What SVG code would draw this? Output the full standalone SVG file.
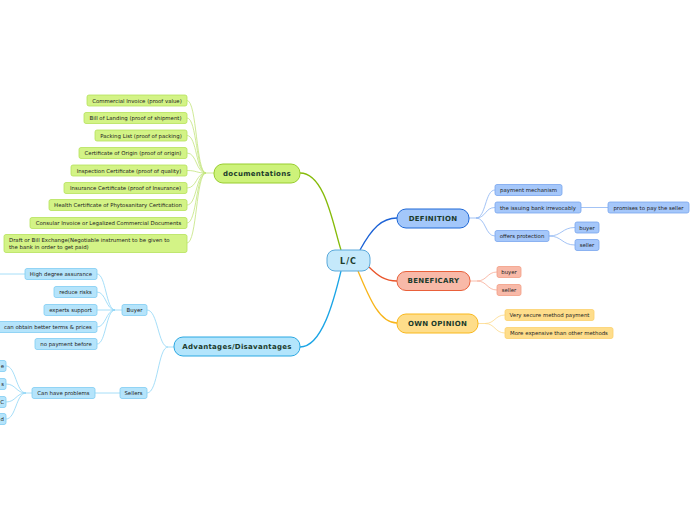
<svg xmlns="http://www.w3.org/2000/svg" width="696" height="520" viewBox="0 0 696 520">
<style>
text{font-family:"DejaVu Sans",Verdana,sans-serif;}
.main{font-size:7px;font-weight:bold;fill:#1b3b2c;text-anchor:middle;dominant-baseline:central;letter-spacing:0.3px;}
.sub{font-size:5.4px;fill:#222;dominant-baseline:central;}
.r{text-anchor:end;}
.l{text-anchor:start;}
.c{text-anchor:middle;}
.dg{fill:#d3f386;stroke:#b5e25a;stroke-width:0.8;}
.bl{fill:#b5e4fb;stroke:#7fcdf3;stroke-width:0.8;}
.db{fill:#a5c7fa;stroke:#78a6ee;stroke-width:0.8;}
.rd{fill:#f8b9a8;stroke:#f39d84;stroke-width:0.8;}
.yl{fill:#fedd8b;stroke:#fbd06d;stroke-width:0.8;}
.cg{fill:none;stroke:#c3e57c;stroke-width:0.8;}
.cb{fill:none;stroke:#8fd6f6;stroke-width:0.8;}
.cd{fill:none;stroke:#8cb4f2;stroke-width:0.8;}
.cr{fill:none;stroke:#f7ab96;stroke-width:0.8;}
.cy{fill:none;stroke:#fcd98a;stroke-width:0.8;}
</style>
<g id="connectors">
  <path d="M300,173 C325,173 333,225 341,250" fill="none" stroke="#86bb0a" stroke-width="1.3"/>
  <path d="M300,347 C322,347 334,300 341,271" fill="none" stroke="#1ba5e6" stroke-width="1.3"/>
  <path d="M360,250 C372,228 382,218 397,218" fill="none" stroke="#1c62d6" stroke-width="1.3"/>
  <path d="M369,267 C378,276 385,281 397,281" fill="none" stroke="#e9552b" stroke-width="1.3"/>
  <path d="M358,271 C370,300 380,323 397,323" fill="none" stroke="#f8b51a" stroke-width="1.3"/>
  <path class="cg" d="M214,173 L206,173"/>
  <path class="cg" d="M206,173 C196,173 197,100.5 187,100.5"/>
  <path class="cg" d="M206,173 C196,173 197,118 187,118"/>
  <path class="cg" d="M206,173 C196,173 197,135.5 187,135.5"/>
  <path class="cg" d="M206,173 C196,173 197,153 187,153"/>
  <path class="cg" d="M206,173 C196,173 197,170.5 187,170.5"/>
  <path class="cg" d="M206,173 C196,173 197,188 187,188"/>
  <path class="cg" d="M206,173 C196,173 197,205 187,205"/>
  <path class="cg" d="M206,173 C196,173 197,223 187,223"/>
  <path class="cg" d="M206,173 C196,173 197,243 187,243"/>
  <path class="cb" d="M174,347 L168,347 C158,347 158,310 147,310"/>
  <path class="cb" d="M168,347 C158,347 158,393 147,393"/>
  <path class="cb" d="M122,310 L115,310"/>
  <path class="cb" d="M115,310 C106,310 106,274 97,274"/>
  <path class="cb" d="M115,310 C106,310 106,292 97,292"/>
  <path class="cb" d="M115,310 L97,310"/>
  <path class="cb" d="M115,310 C106,310 106,327 97,327"/>
  <path class="cb" d="M115,310 C106,310 106,344 97,344"/>
  <path class="cb" d="M25,274 L0,274"/>
  <path class="cb" d="M120,393 L95,393"/>
  <path class="cb" d="M32,393 L26,393"/>
  <path class="cb" d="M26,393 C16,393 16,366 6,366"/>
  <path class="cb" d="M26,393 C16,393 16,384 6,384"/>
  <path class="cb" d="M26,393 C16,393 16,402 6,402"/>
  <path class="cb" d="M26,393 C16,393 16,419 6,419"/>
  <path class="cd" d="M469,218 L476,218"/>
  <path class="cd" d="M476,218 C486,218 485,190 495,190"/>
  <path class="cd" d="M476,218 C486,218 485,207.5 495,207.5"/>
  <path class="cd" d="M476,218 C486,218 485,236 495,236"/>
  <path class="cd" d="M581,207.5 L608,207.5"/>
  <path class="cd" d="M549,236 C562,236 562,227.5 575,227.5"/>
  <path class="cd" d="M549,236 C562,236 562,245 575,245"/>
  <path class="cr" d="M470,281 L477,281"/>
  <path class="cr" d="M477,281 C487,281 487,272 497,272"/>
  <path class="cr" d="M477,281 C487,281 487,290 497,290"/>
  <path class="cy" d="M478,323.5 L485,323.5"/>
  <path class="cy" d="M485,323.5 C495,323.5 495,315 505,315"/>
  <path class="cy" d="M485,323.5 C495,323.5 495,333 505,333"/>
</g>
<g id="lc">
  <rect x="327" y="250" width="43" height="21" rx="8" fill="#c5e9fb" stroke="#5aa9db" stroke-width="1"/>
  <text class="main" x="348.5" y="261" style="font-size:8px;letter-spacing:1px">L/C</text>
</g>
<g id="documentations">
  <rect x="214" y="164" width="86" height="19" rx="9" fill="#cdf27a" stroke="#98cd2e" stroke-width="1"/>
  <text class="main" x="257" y="173.5">documentations</text>
</g>
<g id="doc1"><rect class="dg" x="87" y="95" width="100" height="11" rx="2"/><text class="sub c" x="137" y="100.5">Commercial Invoice (proof value)</text></g>
<g id="doc2"><rect class="dg" x="84" y="112.5" width="103" height="11" rx="2"/><text class="sub c" x="135.5" y="118">Bill of Landing (proof of shipment)</text></g>
<g id="doc3"><rect class="dg" x="95" y="130" width="92" height="11" rx="2"/><text class="sub c" x="141" y="135.5">Packing List (proof of packing)</text></g>
<g id="doc4"><rect class="dg" x="79" y="147.5" width="108" height="11" rx="2"/><text class="sub c" x="133" y="153">Certificate of Origin (proof of origin)</text></g>
<g id="doc5"><rect class="dg" x="71" y="165" width="116" height="11" rx="2"/><text class="sub c" x="129" y="170.5">Inspection Certificate (proof of quality)</text></g>
<g id="doc6"><rect class="dg" x="64" y="182.5" width="123" height="11" rx="2"/><text class="sub c" x="125.5" y="188">Insurance Certificate (proof of Insurance)</text></g>
<g id="doc7"><rect class="dg" x="49" y="199.5" width="138" height="11" rx="2"/><text class="sub c" x="118" y="205">Health Certificate of Phytosanitary Certification</text></g>
<g id="doc8"><rect class="dg" x="30" y="217.5" width="157" height="11" rx="2"/><text class="sub c" x="108.5" y="223">Consular Invoice or Legalized Commercial Documents</text></g>
<g id="doc9"><rect class="dg" x="4" y="234.5" width="183" height="18" rx="2"/><text class="sub l" x="9" y="240">Draft or Bill Exchange(Negotiable instrument to be given to</text><text class="sub l" x="9" y="246.5">the bank in order to get paid)</text></g>
<g id="advantages">
  <rect x="174" y="337" width="126" height="19" rx="9" fill="#b3e5fc" stroke="#2aa8e2" stroke-width="1"/>
  <text class="main" x="237" y="346.5">Advantages/Disavantages</text>
</g>
<g id="buyer"><rect class="bl" x="122" y="304.5" width="25" height="11" rx="2"/><text class="sub c" x="134.5" y="310">Buyer</text></g>
<g id="sellers"><rect class="bl" x="120" y="387.5" width="27" height="11" rx="2"/><text class="sub c" x="133.5" y="393">Sellers</text></g>
<g id="adv1"><rect class="bl" x="25" y="268.5" width="72" height="11" rx="2"/><text class="sub c" x="61" y="274">High degree assurance</text></g>
<g id="adv2"><rect class="bl" x="54" y="286.5" width="43" height="11" rx="2"/><text class="sub c" x="75.5" y="292">reduce risks</text></g>
<g id="adv3"><rect class="bl" x="44" y="304.5" width="53" height="11" rx="2"/><text class="sub c" x="70.5" y="310">experts support</text></g>
<g id="adv4"><rect class="bl" x="-2" y="321.5" width="99" height="11" rx="2"/><text class="sub c" x="48" y="327">can obtain better terms &amp; prices</text></g>
<g id="adv5"><rect class="bl" x="35" y="338.5" width="62" height="11" rx="2"/><text class="sub c" x="66" y="344">no payment before</text></g>
<g id="problems"><rect class="bl" x="32" y="387.5" width="63" height="11" rx="2"/><text class="sub c" x="63.5" y="393">Can have problems</text></g>
<g id="prob1"><rect class="bl" x="-20" y="360.5" width="26" height="11" rx="2"/><text class="sub r" x="4" y="366">e</text></g>
<g id="prob2"><rect class="bl" x="-20" y="378.5" width="26" height="11" rx="2"/><text class="sub r" x="4" y="384">s</text></g>
<g id="prob3"><rect class="bl" x="-20" y="396.5" width="26" height="11" rx="2"/><text class="sub r" x="4" y="402">C</text></g>
<g id="prob4"><rect class="bl" x="-20" y="413.5" width="26" height="11" rx="2"/><text class="sub r" x="4" y="419">d</text></g>
<g id="definition">
  <rect x="397" y="209" width="72" height="19" rx="9" fill="#a3c7fa" stroke="#1f68d6" stroke-width="1"/>
  <text class="main" x="433" y="218.5">DEFINITION</text>
</g>
<g id="def1"><rect class="db" x="495" y="184.5" width="67" height="11" rx="2"/><text class="sub c" x="528.5" y="190">payment mechanism</text></g>
<g id="def2"><rect class="db" x="495" y="202" width="86" height="11" rx="2"/><text class="sub c" x="538" y="207.5">the issuing bank irrevocably</text></g>
<g id="def3"><rect class="db" x="608" y="202" width="81" height="11" rx="2"/><text class="sub c" x="648.5" y="207.5">promises to pay the seller</text></g>
<g id="def4"><rect class="db" x="495" y="230.5" width="54" height="11" rx="2"/><text class="sub c" x="522" y="236">offers protection</text></g>
<g id="def5"><rect class="db" x="575" y="222" width="24" height="11" rx="2"/><text class="sub c" x="587" y="227.5">buyer</text></g>
<g id="def6"><rect class="db" x="575" y="239.5" width="24" height="11" rx="2"/><text class="sub c" x="587" y="245">seller</text></g>
<g id="beneficary">
  <rect x="397" y="271.5" width="73" height="19" rx="9" fill="#f8b9a8" stroke="#e9603a" stroke-width="1"/>
  <text class="main" x="433.5" y="281">BENEFICARY</text>
</g>
<g id="ben1"><rect class="rd" x="497" y="266.5" width="24" height="11" rx="2"/><text class="sub c" x="509" y="272">buyer</text></g>
<g id="ben2"><rect class="rd" x="497" y="284.5" width="24" height="11" rx="2"/><text class="sub c" x="509" y="290">seller</text></g>
<g id="opinion">
  <rect x="397" y="314" width="81" height="19" rx="9" fill="#fedd8a" stroke="#f9b81c" stroke-width="1"/>
  <text class="main" x="437.5" y="323.5">OWN OPINION</text>
</g>
<g id="op1"><rect class="yl" x="505" y="309.5" width="89" height="11" rx="2"/><text class="sub c" x="549.5" y="315">Very secure method payment</text></g>
<g id="op2"><rect class="yl" x="505" y="327.5" width="108" height="11" rx="2"/><text class="sub c" x="559" y="333">More expensive than other methods</text></g>
</svg>
